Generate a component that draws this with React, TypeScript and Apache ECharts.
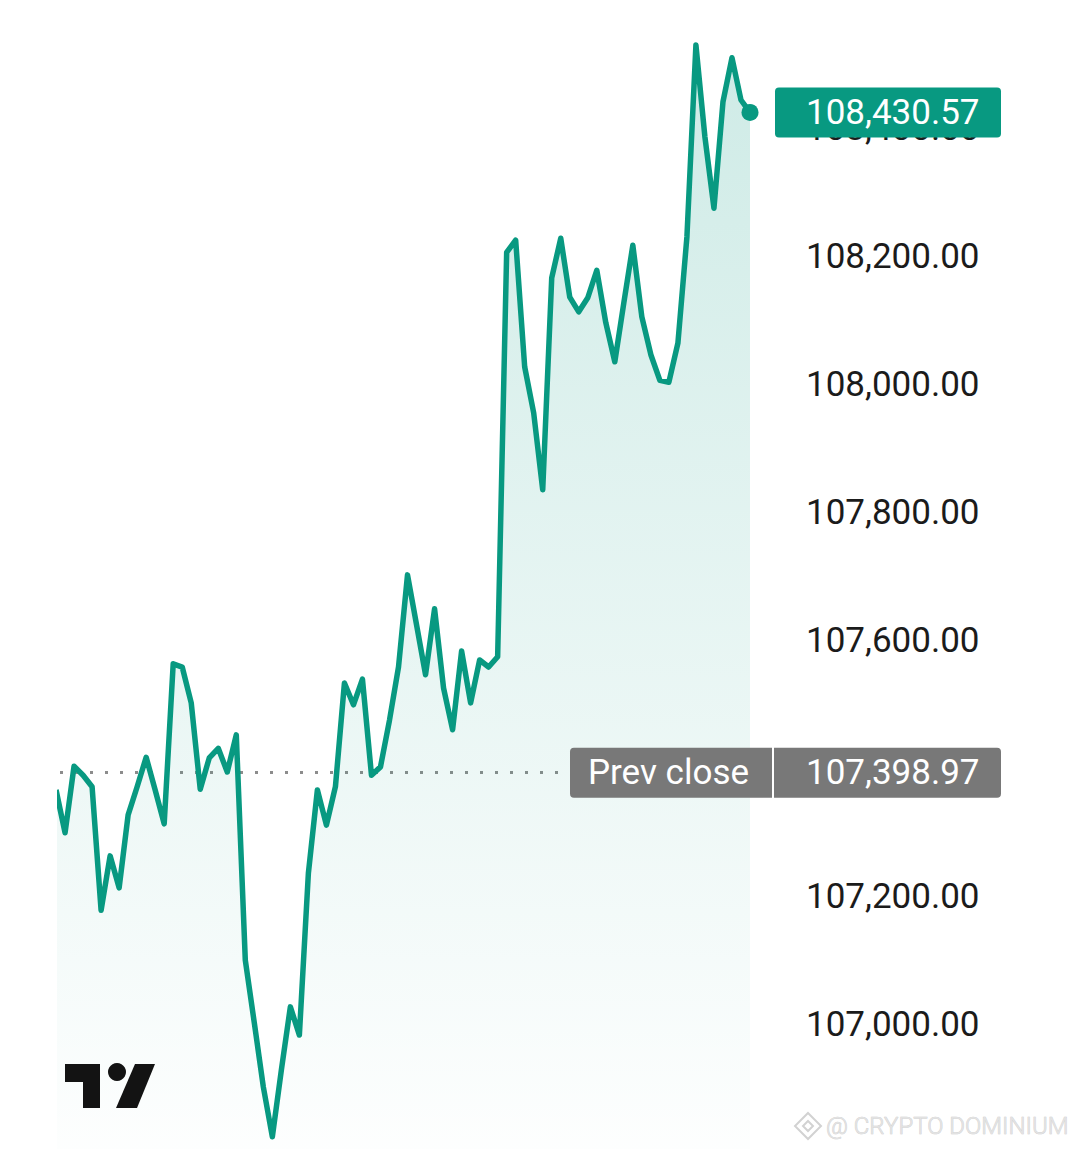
import React, { useEffect, useRef } from "react";
import * as echarts from "echarts";

// price series, one value per time step (first step partly outside the visible area)
const prices: number[] = [
  107372, 107305, 107409, 107395, 107377, 107184, 107269, 107219, 107333, 107377,
  107423, 107372, 107319, 107569, 107564, 107508, 107373, 107422, 107437, 107400,
  107458, 107106, 107008, 106908, 106830, 106934, 107033, 106989, 107242, 107372,
  107317, 107377, 107539, 107505, 107545, 107395, 107408, 107481, 107564, 107708,
  107630, 107552, 107655, 107531, 107466, 107589, 107508, 107575, 107564, 107580,
  108212, 108231, 108033, 107961, 107841, 108172, 108234, 108142, 108119, 108141,
  108184, 108102, 108041, 108133, 108223, 108111, 108052, 108012, 108009, 108070,
  108236, 108536, 108392, 108281, 108447, 108516, 108450, 108430.57,
];
const prevClose = 107398.97;
const lastPrice = 108430.57;
const prevCloseLabel = "Prev close";
const watermark = "@ CRYPTO DOMINIUM";
const yTicks = { min: 106800, max: 108600, interval: 200 };

const GREEN = "#089981";
const GRAY = "#787878";
const FONT = "Roboto, 'Noto Sans', sans-serif";

const fmt = (v: number) =>
  v.toLocaleString("en-US", { minimumFractionDigits: 2, maximumFractionDigits: 2 });

export default function App() {
  const ref = useRef<HTMLDivElement>(null);
  useEffect(() => {
    if (!ref.current) return;
    const chart = echarts.init(ref.current, undefined, { renderer: "svg" });
    const seriesData = prices.map((v, i) => [i, v]);
    const last = seriesData[seriesData.length - 1];
    chart.setOption({
      animation: false,
      backgroundColor: "#ffffff",
      grid: { left: 60, right: 330, top: 4, bottom: 4 },
      xAxis: {
        type: "value",
        min: 0.44,
        max: prices.length - 1,
        show: false,
      },
      yAxis: {
        type: "value",
        position: "right",
        min: yTicks.min,
        max: yTicks.max,
        interval: yTicks.interval,
        splitLine: { show: false },
        axisLine: { show: false },
        axisTick: { show: false },
        axisLabel: {
          show: true,
          showMinLabel: false,
          showMaxLabel: false,
          margin: 56,
          align: "left",
          formatter: (v: number) => `{t|${fmt(v)}}`,
          rich: {
            t: {
              fontSize: 35,
              fontFamily: FONT,
              color: "#1b1b1b",
              padding: [0, 0, 8, 0],
            },
          },
        },
      },
      series: [
        {
          type: "line",
          data: seriesData,
          showSymbol: false,
          symbol: "none",
          lineStyle: { color: GREEN, width: 5.5, join: "round" },
          areaStyle: {
            color: new echarts.graphic.LinearGradient(0, 0, 0, 1, [
              { offset: 0, color: "rgba(8,153,129,0.28)" },
              { offset: 1, color: "rgba(8,153,129,0.01)" },
            ]),
          },
          markLine: {
            silent: true,
            symbol: "none",
            label: { show: false },
            lineStyle: { color: "#8c8c8c", width: 3, type: [3, 12], cap: "butt" },
            data: [{ yAxis: prevClose }],
            z: 1,
          },
          z: 3,
        },
        {
          type: "scatter",
          data: [last],
          symbolSize: 17,
          itemStyle: { color: GREEN, opacity: 1 },
          clip: false,
          z: 4,
        },
      ],
    });

    const yPrev = chart.convertToPixel({ yAxisIndex: 0 }, prevClose) as number;
    const yLast = chart.convertToPixel({ yAxisIndex: 0 }, lastPrice) as number;
    const boxH = 50;

    chart.setOption({
      graphic: [
        // current price label
        {
          type: "rect",
          z: 100,
          shape: { x: 775, y: yLast - boxH / 2, width: 226, height: boxH, r: 4 },
          style: { fill: GREEN },
        },
        {
          type: "text",
          z: 101,
          x: 806,
          y: yLast,
          style: {
            text: fmt(lastPrice),
            fill: "#ffffff",
            font: `35px ${FONT}`,
            verticalAlign: "middle",
            align: "left",
          },
        },
        // prev close label
        {
          type: "rect",
          z: 100,
          shape: { x: 570, y: yPrev - boxH / 2, width: 202, height: boxH, r: [4, 0, 0, 4] },
          style: { fill: GRAY },
        },
        {
          type: "rect",
          z: 100,
          shape: { x: 774, y: yPrev - boxH / 2, width: 227, height: boxH, r: [0, 4, 4, 0] },
          style: { fill: GRAY },
        },
        {
          type: "text",
          z: 101,
          x: 588,
          y: yPrev,
          style: {
            text: prevCloseLabel,
            fill: "#ffffff",
            font: `35px ${FONT}`,
            verticalAlign: "middle",
            align: "left",
          },
        },
        {
          type: "text",
          z: 101,
          x: 806,
          y: yPrev,
          style: {
            text: fmt(prevClose),
            fill: "#ffffff",
            font: `35px ${FONT}`,
            verticalAlign: "middle",
            align: "left",
          },
        },
        // TradingView logo
        {
          type: "polygon",
          z: 100,
          shape: {
            points: [
              [65, 1064], [100, 1064], [100, 1108], [83, 1108], [83, 1082], [65, 1082],
            ],
          },
          style: { fill: "#131313" },
        },
        {
          type: "circle",
          z: 100,
          shape: { cx: 117, cy: 1072, r: 9 },
          style: { fill: "#131313" },
        },
        {
          type: "polygon",
          z: 100,
          shape: { points: [[135, 1064], [155, 1064], [137, 1108], [116, 1108]] },
          style: { fill: "#131313" },
        },
        // watermark icon
        {
          type: "group",
          z: 100,
          x: 808,
          y: 1126,
          children: [
            { type: "polygon", shape: { points: [[0, -13], [13, 0], [0, 13], [-13, 0]] }, style: { fill: "none", stroke: "#d2d2d2", lineWidth: 2 } },
            { type: "polygon", shape: { points: [[0, -5], [5, 0], [0, 5], [-5, 0]] }, style: { fill: "none", stroke: "#d2d2d2", lineWidth: 2 } },
          ],
        },
        {
          type: "text",
          z: 100,
          x: 826,
          y: 1126,
          style: {
            text: watermark,
            fill: "#e2e2e2",
            stroke: "#c8c8c8",
            lineWidth: 0.6,
            font: `300 24px ${FONT}`,
            verticalAlign: "middle",
            align: "left",
          },
        },
      ],
    });

    return () => chart.dispose();
  }, []);
  return (
    <div
      ref={ref}
      style={{ position: "fixed", left: 0, top: 0, width: 1080, height: 1160 }}
    />
  );
}
